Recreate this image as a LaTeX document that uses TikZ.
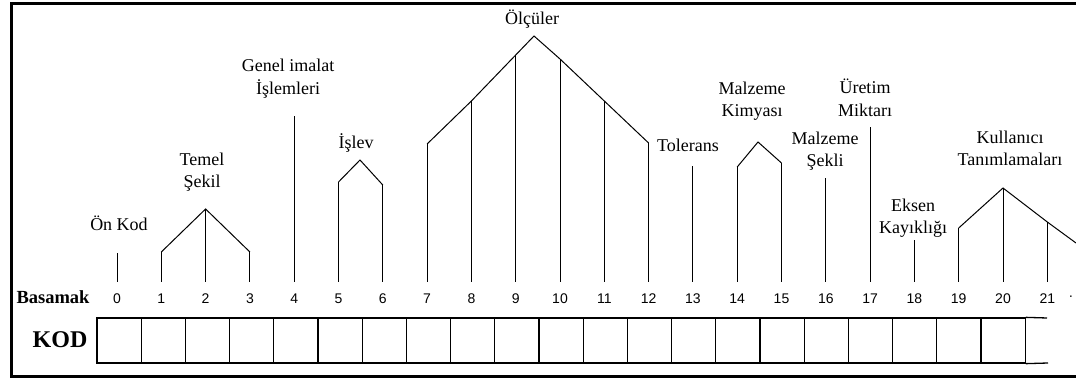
\documentclass[tikz,border=0pt]{standalone}
\usepackage{fontspec}
\setmainfont{Liberation Serif}
\newfontfamily\rakamfont{Liberation Sans}
\usetikzlibrary{positioning}

\begin{document}
\begin{tikzpicture}[x=1pt, y=-1pt, line width=1pt,
  etiket/.style={align=center, inner sep=0pt, font=\fontsize{18}{22.5}\selectfont},
  rakam/.style={inner sep=0pt, font=\rakamfont\fontsize{14}{14}\selectfont},
  hucre/.style={draw, line width=1.3pt, minimum width=44.2pt, minimum height=45pt, inner sep=0pt}]
  \useasboundingbox (0,0) rectangle (1076,379);

  % Cerceve
  \draw[line width=3pt] (1076,4) -- (11,4) -- (11,376) -- (1076,376);

  % Basamaklar ve kod hucreleri
  \node[font=\bfseries\fontsize{18.5}{18.5}\selectfont, inner sep=0pt] (basamak) at (53,297) {Basamak};
  \node[font=\bfseries\fontsize{24}{24}\selectfont, inner sep=0pt] (kod) at (60,340) {KOD};
  \foreach \i in {0,...,20}
    \node[hucre] (h\i) at ({97+44.2*\i+22.1},340.5) {};
  \coordinate (son1) at (1047,318);
  \coordinate (son2) at (1048,363);
  \draw[line width=1.3pt] (h20.north east) -- (son1);
  \draw[line width=1.3pt] (h20.south east) -- (son2);
  \foreach \i in {0,...,21}
    \node[rakam] (r\i) at ({117+44.3*\i},299) {\i};
  \node[rakam] (nokta) at (1071,298) {·};

  % Dikey cizgiler
  \foreach \i/\ust in {0/253, 1/252, 2/209, 3/252, 4/116, 5/182, 6/185, 7/144,
      8/101, 9/55, 10/59, 11/101, 12/143, 13/166, 14/167, 15/163, 16/178,
      17/127, 18/240, 19/228, 20/188, 21/222} {
    \coordinate (alt\i) at ({117+44.3*\i},282);
    \coordinate (ust\i) at ({117+44.3*\i},\ust);
    \draw (alt\i) -- (ust\i);
  }

  % Gruplar
  \coordinate (tepe1) at (360,160);
  \coordinate (tepe2) at (534,36);
  \coordinate (tepe3) at (758,142);
  \coordinate (uc) at (1076,243);
  \draw (ust1) -- (ust2) -- (ust3);
  \draw (ust5) -- (tepe1) -- (ust6);
  \draw (ust7) -- (ust8) -- (ust9) -- (tepe2) -- (ust10) -- (ust11) -- (ust12);
  \draw (ust14) -- (tepe3) -- (ust15);
  \draw (ust19) -- (ust20) -- (ust21) -- (uc);

  % Etiketler
  \node[etiket] (onkod) at (119,223) {Ön Kod};
  \node[etiket] (temel) at (202,172) {Temel\\Şekil};
  \node[etiket] (genel) at (288,78.5) {Genel imalat\\İşlemleri};
  \node[etiket] (islev) at (356,143) {İşlev};
  \node[etiket] (olculer) at (532,19) {Ölçüler};
  \node[etiket] (tolerans) at (688,145) {Tolerans};
  \node[etiket] (kimya) at (752,101) {Malzeme\\Kimyası};
  \node[etiket] (sekil) at (825,151) {Malzeme\\Şekli};
  \node[etiket] (uretim) at (865,98) {Üretim\\Miktarı};
  \node[etiket] (eksen) at (913,218) {Eksen\\Kayıklığı};
  \node[etiket] (kullanici) at (1010,148.5) {Kullanıcı\\Tanımlamaları};
\end{tikzpicture}
\end{document}
